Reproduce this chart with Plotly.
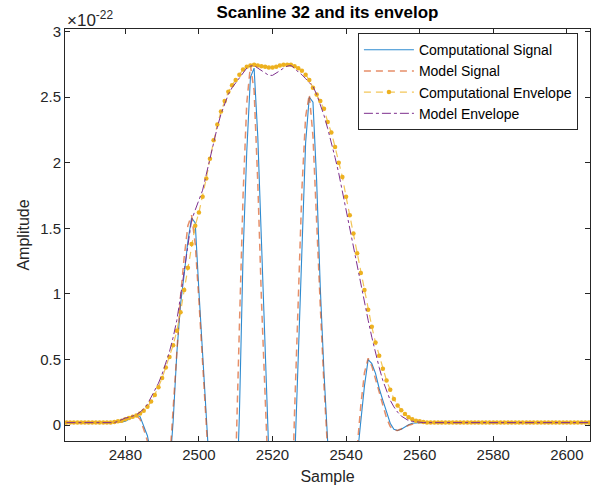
import plotly.graph_objects as go

# Sample axis (one value per sample)
first_sample = 2464
last_sample = 2606
samples = list(range(first_sample, last_sample + 1))

# Values in units of 1e-22
comp_signal = [
    0.02, 0.02, 0.02, 0.02, 0.02, 0.02, 0.02, 0.02, 0.02, 0.02, 0.02, 0.02, 0.02, 0.02,
    0.022, 0.025, 0.03, 0.045, 0.065, 0.078, 0.066, 0.0, -0.08, -0.22,
    -0.4, -0.55, -0.6, -0.52, -0.35, 0.03, 0.55, 0.92, 1.15, 1.40,
    1.58, 1.54, 1.02, 0.5, -0.05, -0.8, -1.5, -2.0, -2.3, -2.3,
    -2.0, -1.5, -0.8, 0.08, 1.30, 2.08, 2.65, 2.72, 2.2, 1.40,
    0.41, -0.6, -1.6, -2.3, -2.65, -2.6, -2.2, -1.4, -0.3, 0.55,
    1.45, 2.15, 2.50, 2.46, 1.86, 1.04, 0.40, -0.15, -0.9, -1.4,
    -1.7, -1.7, -1.5, -1.1, -0.65, -0.25, 0.03, 0.30, 0.50, 0.47,
    0.395, 0.28, 0.19, 0.10, 0.015, -0.03, -0.04, -0.03, -0.01, 0.003,
    0.015, 0.02,
    0.02, 0.02, 0.02, 0.02, 0.02, 0.02, 0.02, 0.02, 0.02, 0.02, 0.02, 0.02,
    0.02, 0.02, 0.02, 0.02, 0.02, 0.02, 0.02, 0.02, 0.02, 0.02, 0.02, 0.02,
    0.02, 0.02, 0.02, 0.02, 0.02, 0.02, 0.02, 0.02, 0.02, 0.02, 0.02, 0.02,
    0.02, 0.02, 0.02, 0.02, 0.02, 0.02, 0.02, 0.02, 0.02, 0.02, 0.02,
]

model_signal = [
    0.02, 0.02, 0.02, 0.02, 0.02, 0.02, 0.02, 0.02, 0.02, 0.02, 0.02, 0.02, 0.02, 0.02,
    0.022, 0.028, 0.038, 0.055, 0.072, 0.075, 0.045, -0.03, -0.12, -0.28,
    -0.45, -0.58, -0.6, -0.5, -0.3, 0.15, 0.6, 0.98, 1.28, 1.52,
    1.60, 1.38, 0.95, 0.45, -0.1, -0.75, -1.4, -1.95, -2.3, -2.35,
    -1.9, -1.2, -0.3, 0.75, 1.75, 2.45, 2.74, 2.55, 1.85, 0.95,
    -0.05, -1.1, -2.0, -2.55, -2.7, -2.4, -1.8, -0.9, 0.1, 1.0,
    1.8, 2.35, 2.52, 2.2, 1.5, 0.9, 0.3, -0.3, -1.05, -1.5,
    -1.7, -1.6, -1.35, -0.95, -0.5, -0.15, 0.15, 0.4, 0.51, 0.45,
    0.35, 0.24, 0.14, 0.055, -0.01, -0.035, -0.04, -0.03, -0.015, 0.0,
    0.01, 0.015,
    0.02, 0.02, 0.02, 0.02, 0.02, 0.02, 0.02, 0.02, 0.02, 0.02, 0.02, 0.02,
    0.02, 0.02, 0.02, 0.02, 0.02, 0.02, 0.02, 0.02, 0.02, 0.02, 0.02, 0.02,
    0.02, 0.02, 0.02, 0.02, 0.02, 0.02, 0.02, 0.02, 0.02, 0.02, 0.02, 0.02,
    0.02, 0.02, 0.02, 0.02, 0.02, 0.02, 0.02, 0.02, 0.02, 0.02, 0.02,
]

comp_envelope = [
    0.02, 0.02, 0.02, 0.02, 0.02, 0.02, 0.02, 0.02, 0.02, 0.02, 0.02, 0.02, 0.02,
    0.025, 0.03, 0.035, 0.045, 0.055, 0.065, 0.075, 0.09, 0.11, 0.14,
    0.18, 0.23, 0.29, 0.36, 0.44, 0.52, 0.61, 0.72, 0.86, 1.03,
    1.2, 1.38, 1.52, 1.62, 1.74, 1.88, 2.03, 2.17, 2.29, 2.39,
    2.47, 2.54, 2.59, 2.63, 2.67, 2.71, 2.73, 2.74, 2.745, 2.74,
    2.735, 2.73, 2.725, 2.725, 2.73, 2.74, 2.745, 2.745, 2.745, 2.735,
    2.72, 2.70, 2.67, 2.63, 2.57, 2.52, 2.47, 2.41, 2.31, 2.23,
    2.12, 2.00, 1.89, 1.74, 1.60, 1.46, 1.31, 1.16, 1.03, 0.88,
    0.75, 0.63, 0.53, 0.43, 0.34, 0.27, 0.20, 0.15, 0.115, 0.085,
    0.06, 0.045, 0.035, 0.03, 0.025,
    0.02, 0.02, 0.02, 0.02, 0.02, 0.02, 0.02, 0.02, 0.02, 0.02, 0.02, 0.02,
    0.02, 0.02, 0.02, 0.02, 0.02, 0.02, 0.02, 0.02, 0.02, 0.02, 0.02, 0.02,
    0.02, 0.02, 0.02, 0.02, 0.02, 0.02, 0.02, 0.02, 0.02, 0.02, 0.02, 0.02,
    0.02, 0.02, 0.02, 0.02, 0.02, 0.02, 0.02, 0.02, 0.02,
]

model_envelope = [
    0.02, 0.02, 0.02, 0.02, 0.02, 0.02, 0.02, 0.02, 0.02, 0.02, 0.02, 0.02, 0.02, 0.02,
    0.03, 0.045, 0.055, 0.06, 0.07, 0.08, 0.1, 0.125, 0.16, 0.21,
    0.26, 0.32, 0.39, 0.47, 0.56, 0.67, 0.80, 0.98, 1.18, 1.40,
    1.56, 1.64, 1.71, 1.79, 1.91, 2.03, 2.16, 2.27, 2.37, 2.45,
    2.52, 2.57, 2.61, 2.65, 2.69, 2.72, 2.735, 2.74, 2.72, 2.70,
    2.68, 2.665, 2.665, 2.68, 2.70, 2.72, 2.735, 2.74, 2.72, 2.69,
    2.67, 2.64, 2.61, 2.58, 2.52, 2.44, 2.36, 2.26, 2.16, 2.04,
    1.92, 1.78, 1.64, 1.50, 1.35, 1.20, 1.06, 0.93, 0.80, 0.67,
    0.55, 0.44, 0.34, 0.26, 0.19, 0.14, 0.10, 0.07, 0.05, 0.035,
    0.03, 0.025,
    0.02, 0.02, 0.02, 0.02, 0.02, 0.02, 0.02, 0.02, 0.02, 0.02, 0.02, 0.02,
    0.02, 0.02, 0.02, 0.02, 0.02, 0.02, 0.02, 0.02, 0.02, 0.02, 0.02, 0.02,
    0.02, 0.02, 0.02, 0.02, 0.02, 0.02, 0.02, 0.02, 0.02, 0.02, 0.02, 0.02,
    0.02, 0.02, 0.02, 0.02, 0.02, 0.02, 0.02, 0.02, 0.02, 0.02, 0.02,
]

x_ticks = [2480, 2500, 2520, 2540, 2560, 2580, 2600]
y_ticks = [0, 0.5, 1, 1.5, 2, 2.5, 3]
y_tick_labels = ["0", "0.5", "1", "1.5", "2", "2.5", "3"]

FONT = "Liberation Sans, Arial, Helvetica, sans-serif"
AX = "#262626"

fig = go.Figure()
fig.add_trace(go.Scatter(
    x=samples, y=comp_signal, mode="lines", name="Computational Signal",
    line=dict(color="#2E8BD0", width=1.1)))
fig.add_trace(go.Scatter(
    x=samples, y=model_signal, mode="lines", name="Model Signal",
    line=dict(color="rgba(217,83,25,0.65)", width=1.5, dash="7px,5px")))
fig.add_trace(go.Scatter(
    x=samples, y=comp_envelope, mode="lines+markers", name="Computational Envelope",
    line=dict(color="rgba(237,177,32,0.75)", width=1.2, dash="7px,5px"),
    marker=dict(color="#EDB120", size=4.5, symbol="circle")))
fig.add_trace(go.Scatter(
    x=samples, y=model_envelope, mode="lines", name="Model Envelope",
    line=dict(color="#7E2F8E", width=1, dash="dashdot")))

axis_common = dict(
    showline=True, linecolor=AX, linewidth=1, mirror="ticks",
    ticks="inside", ticklen=5, tickcolor=AX, tickwidth=1,
    showgrid=False, zeroline=False, automargin=False,
    tickfont=dict(family=FONT, size=15, color=AX),
)

fig.update_xaxes(
    range=[2463.6, 2606.3], tickvals=x_ticks,
    title=dict(text="Sample", font=dict(family=FONT, size=16, color=AX), standoff=8),
    **axis_common)
fig.update_yaxes(
    range=[-0.12, 3.018], tickvals=y_ticks, ticktext=y_tick_labels,
    title=dict(text="Amplitude", font=dict(family=FONT, size=16, color=AX), standoff=6),
    **axis_common)

fig.update_layout(
    width=606, height=495,
    margin=dict(l=65, r=16, t=29, b=54, autoexpand=False),
    paper_bgcolor="white", plot_bgcolor="white",
    font=dict(family=FONT, color=AX),
    title=dict(text="<b>Scanline 32 and its envelop</b>", x=0.5, xref="paper",
               xanchor="center", y=0.976, yref="container", yanchor="middle",
               font=dict(family=FONT, size=17, color="black")),
    showlegend=True,
    legend=dict(x=0.977, y=0.99, xanchor="right", yanchor="top",
                bgcolor="white", bordercolor=AX, borderwidth=1,
                font=dict(family=FONT, size=14, color="black"),
                tracegroupgap=0, itemwidth=50),
    annotations=[dict(text="×10<sup>-22</sup>", x=0, y=1, xref="paper", yref="paper",
                      xanchor="left", yanchor="bottom", showarrow=False,
                      font=dict(family=FONT, size=17, color=AX), yshift=-3)],
)

fig.write_html("out.html",
               config={"displayModeBar": False},
               post_script="document.body.style.margin='0';document.body.style.overflow='hidden';")
